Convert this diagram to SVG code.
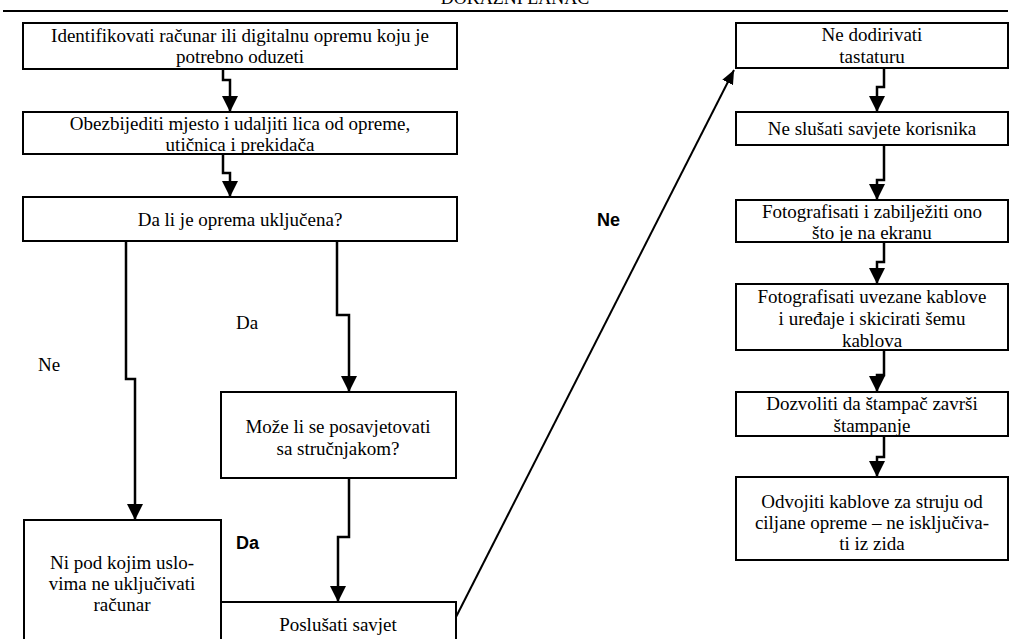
<svg xmlns="http://www.w3.org/2000/svg" width="1011" height="639" viewBox="0 0 1011 639">
<style>
.box{fill:#fff;stroke:#000;stroke-width:2}
.t{font-family:"Liberation Serif","DejaVu Serif",serif;font-size:19px;fill:#000;text-anchor:middle}
.lbl{font-family:"Liberation Serif","DejaVu Serif",serif;font-size:19px;fill:#000}
.bl{font-family:"Liberation Sans",Arial,sans-serif;font-size:18px;font-weight:bold;fill:#000}
.c{fill:none;stroke:#000;stroke-width:2.5}
.d{fill:none;stroke:#000;stroke-width:2}
</style>
<defs>
<marker id="ah" markerUnits="userSpaceOnUse" markerWidth="16" markerHeight="16" viewBox="0 0 16 16" refX="16" refY="8" orient="auto">
<path d="M0,0 L16,8 L0,16 z" fill="#000"/>
</marker>
<marker id="ah2" markerUnits="userSpaceOnUse" markerWidth="14" markerHeight="12" viewBox="0 0 14 12" refX="14" refY="6" orient="auto">
<path d="M0,0 L14,6 L0,12 z" fill="#000"/>
</marker>
</defs>
<text class="t" x="515" y="4" style="font-size:18px">DOKAZNI LANAC</text>
<line x1="3" y1="11" x2="1008" y2="11" stroke="#000" stroke-width="2"/>
<g id="connectors">
<path class="c" d="M223,69 V80 H230 V112" marker-end="url(#ah)"/>
<path class="c" d="M223,154 V173 H230 V197" marker-end="url(#ah)"/>
<path class="c" d="M126,241 V379 H135 V520" marker-end="url(#ah)"/>
<path class="c" d="M337,241 V315 H349 V392" marker-end="url(#ah)"/>
<path class="c" d="M349,478 V537 H338 V602" marker-end="url(#ah)"/>
<path class="d" d="M456,617 L734,70" marker-end="url(#ah2)"/>
<path class="c" d="M884,68 V87 H877 V112" marker-end="url(#ah)"/>
<path class="c" d="M884,145 V180 H877 V200" marker-end="url(#ah)"/>
<path class="c" d="M884,242 V262 H877 V284" marker-end="url(#ah)"/>
<path class="c" d="M884,350 V375 H877 V392" marker-end="url(#ah)"/>
<path class="c" d="M884,436 V457 H877 V477" marker-end="url(#ah)"/>
<text class="lbl" x="236" y="329">Da</text>
<text class="lbl" x="38" y="371">Ne</text>
<text class="bl" x="236" y="549">Da</text>
<text class="bl" x="597" y="226">Ne</text>
</g>
<g id="n1"><rect class="box" x="23" y="23" width="434" height="46"/>
<text class="t" x="240" y="42">Identifikovati računar ili digitalnu opremu koju je</text>
<text class="t" x="240" y="63">potrebno oduzeti</text></g>
<g id="n2"><rect class="box" x="23" y="112" width="434" height="42"/>
<text class="t" x="240" y="130">Obezbijediti mjesto i udaljiti lica od opreme,</text>
<text class="t" x="240" y="151">utičnica i prekidača</text></g>
<g id="n3"><rect class="box" x="23" y="197" width="434" height="44"/>
<text class="t" x="240" y="226">Da li je oprema uključena?</text></g>
<g id="n4"><rect class="box" x="221" y="392" width="235" height="86"/>
<text class="t" x="338" y="433">Može li se posavjetovati</text>
<text class="t" x="338" y="455">sa stručnjakom?</text></g>
<g id="n5"><rect class="box" x="24" y="520" width="197" height="130"/>
<text class="t" x="122" y="569">Ni pod kojim uslo-</text>
<text class="t" x="122" y="590">vima ne uključivati</text>
<text class="t" x="122" y="611">računar</text></g>
<g id="n6"><rect class="box" x="221" y="602" width="235" height="50"/>
<text class="t" x="338" y="631">Poslušati savjet</text></g>
<g id="r1"><rect class="box" x="736" y="23" width="272" height="45"/>
<text class="t" x="872" y="41">Ne dodirivati</text>
<text class="t" x="872" y="63">tastaturu</text></g>
<g id="r2"><rect class="box" x="736" y="112" width="272" height="33"/>
<text class="t" x="872" y="135">Ne slušati savjete korisnika</text></g>
<g id="r3"><rect class="box" x="736" y="200" width="272" height="42"/>
<text class="t" x="872" y="218">Fotografisati i zabilježiti ono</text>
<text class="t" x="872" y="239">što je na ekranu</text></g>
<g id="r4"><rect class="box" x="736" y="284" width="272" height="66"/>
<text class="t" x="872" y="303">Fotografisati uvezane kablove</text>
<text class="t" x="872" y="325">i uređaje i skicirati šemu</text>
<text class="t" x="872" y="347">kablova</text></g>
<g id="r5"><rect class="box" x="736" y="392" width="272" height="44"/>
<text class="t" x="872" y="410">Dozvoliti da štampač završi</text>
<text class="t" x="872" y="432">štampanje</text></g>
<g id="r6"><rect class="box" x="736" y="477" width="272" height="83"/>
<text class="t" x="872" y="508">Odvojiti kablove za struju od</text>
<text class="t" x="872" y="529">ciljane opreme – ne isključiva-</text>
<text class="t" x="872" y="550">ti iz zida</text></g>
</svg>
